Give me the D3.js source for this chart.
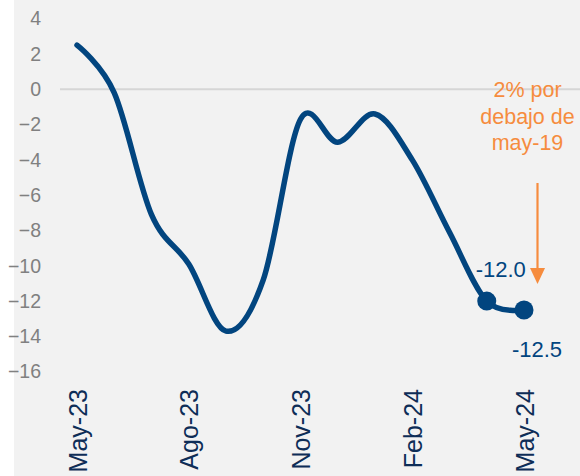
<!DOCTYPE html>
<html>
<head>
<meta charset="utf-8">
<script src="https://cdn.jsdelivr.net/npm/d3@7"></script>
<style>
  html, body { margin: 0; padding: 0; background: #fff; }
  svg text { font-family: "Liberation Sans", Arial, sans-serif; }
</style>
</head>
<body>
<svg id="chart" width="580" height="476"></svg>
<script>
// monthly values, May-23 .. May-24
var months = ["May-23","Jun-23","Jul-23","Ago-23","Sep-23","Oct-23","Nov-23",
              "Dic-23","Ene-24","Feb-24","Mar-24","Abr-24","May-24"];
var values = [2.5, -0.2, -7.1, -9.9, -13.7, -10.8, -1.7, -3.0, -1.4, -4.0, -8.1, -12.0, -12.5];
var xTickLabels = ["May-23","Ago-23","Nov-23","Feb-24","May-24"];
var yTicks = [4, 2, 0, -2, -4, -6, -8, -10, -12, -14, -16];
var noteLines = ["2% por", "debajo de", "may-19"];

var svg = d3.select("#chart"),
    width = +svg.attr("width"),
    height = +svg.attr("height");

var navy = "#02457f",
    orange = "#f68c3e";

svg.append("rect")
    .attr("x", 14).attr("y", 0)
    .attr("width", width - 14).attr("height", height)
    .attr("fill", "#f2f2f2");

var x = d3.scalePoint().domain(months).range([77, 524]);
var y = d3.scaleLinear().domain([4, -16]).range([18.7, 371.7]);

// y labels
var yAxis = svg.append("g")
    .attr("transform", "translate(41,0)")
    .call(d3.axisLeft(y).tickValues(yTicks).tickSize(0).tickPadding(0).tickFormat(d3.format("d")));
yAxis.select(".domain").remove();
yAxis.selectAll("text")
    .attr("fill", "#808080")
    .style("font-size", "19.5px");

// zero line
svg.append("line")
    .attr("x1", 60).attr("x2", width)
    .attr("y1", y(0)).attr("y2", y(0))
    .attr("stroke", "#d6d6d6")
    .attr("stroke-width", 2);

// x labels
var xAxis = svg.append("g")
    .attr("transform", "translate(0,389)")
    .call(d3.axisBottom(x).tickValues(xTickLabels).tickSize(0).tickPadding(0));
xAxis.select(".domain").remove();
xAxis.selectAll("text")
    .attr("fill", "#0e2d57")
    .style("font-size", "25px")
    .attr("text-anchor", "end")
    .attr("dy", null)
    .attr("y", 0)
    .attr("transform", "rotate(-90) translate(0,9)");

// line
var line = d3.line()
    .x(function(d, i) { return x(months[i]); })
    .y(function(d) { return y(d); })
    .curve(d3.curveCardinal.tension(0));

svg.append("path")
    .datum(values)
    .attr("d", line)
    .attr("fill", "none")
    .attr("stroke", navy)
    .attr("stroke-width", 5.5)
    .attr("stroke-linecap", "round");

var last = values.length - 1;
[last - 1, last].forEach(function(i) {
    svg.append("circle")
        .attr("cx", x(months[i]))
        .attr("cy", y(values[i]))
        .attr("r", 9.5)
        .attr("fill", navy);
});

svg.append("text")
    .attr("x", x(months[last - 1]) + 14)
    .attr("y", 277)
    .attr("text-anchor", "middle")
    .attr("fill", navy)
    .style("font-size", "22px")
    .text(values[last - 1].toFixed(1));

svg.append("text")
    .attr("x", x(months[last]) + 13)
    .attr("y", 357)
    .attr("text-anchor", "middle")
    .attr("fill", navy)
    .style("font-size", "22px")
    .text(values[last].toFixed(1));

// annotation
var note = svg.append("text")
    .attr("text-anchor", "middle")
    .attr("fill", orange)
    .style("font-size", "21.5px");
noteLines.forEach(function(t, i) {
    note.append("tspan")
        .attr("x", 527.5)
        .attr("y", 97 + i * 26.5)
        .text(t);
});

svg.append("line")
    .attr("x1", 537.5).attr("x2", 537.5)
    .attr("y1", 183).attr("y2", 270)
    .attr("stroke", orange)
    .attr("stroke-width", 2.2);
svg.append("path")
    .attr("d", "M530,268 L545,268 L537.5,284 Z")
    .attr("fill", orange);
</script>
</body>
</html>
